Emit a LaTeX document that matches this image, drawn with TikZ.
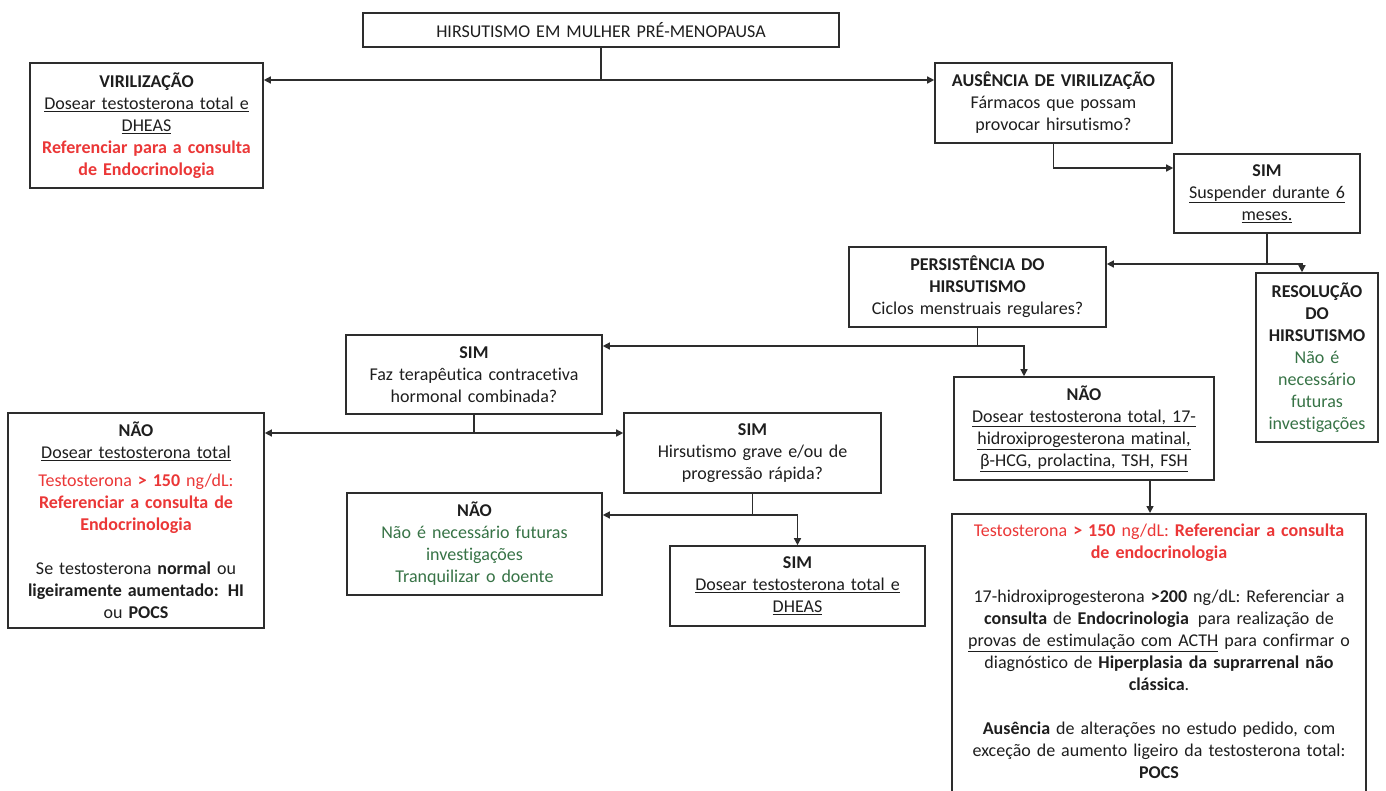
\documentclass[tikz,border=0pt]{standalone}
\usepackage{fontspec}
\setmainfont{Carlito}[Ligatures=NoCommon]
\usetikzlibrary{arrows.meta,calc}
\definecolor{txt}{RGB}{30,30,30}
\definecolor{lin}{RGB}{45,45,45}
\definecolor{rd}{RGB}{235,55,55}
\definecolor{gr}{RGB}{55,115,70}
\begin{document}
\begin{tikzpicture}[x=1pt,y=-1pt,
  box/.style={draw=lin, line width=1.6pt, fill=white, align=center, inner sep=3pt,
    font=\fontsize{18}{22}\selectfont, text=txt},
  conn/.style={draw=lin, line width=1.4pt},
  arr/.style={conn, -{Triangle[length=7pt,width=7pt]}}]
\useasboundingbox (0,0) rectangle (1386,790);
\fill[white] (0,0) rectangle (1386,790);

\node[box, minimum width=476pt, minimum height=34pt, text width=466pt] (top) at (601,30)
  {HIRSUTISMO EM MULHER PRÉ-MENOPAUSA};

\node[box, minimum width=233pt, minimum height=125pt, text width=225pt] (viril) at (146.5,125.5)
  {\textbf{VIRILIZAÇÃO}\\ \underline{Dosear testosterona total e}\\ \underline{DHEAS}\\
   \textcolor{rd}{\textbf{Referenciar para a consulta}}\\ \textcolor{rd}{\textbf{de Endocrinologia}}};

\node[box, minimum width=237pt, minimum height=80pt, text width=229pt] (aus) at (1053.5,103)
  {\textbf{AUSÊNCIA DE VIRILIZAÇÃO}\\ Fármacos que possam\\ provocar hirsutismo?};

\node[box, minimum width=186pt, minimum height=79pt, text width=178pt] (sim1) at (1267,193.5)
  {\textbf{SIM}\\ \underline{Suspender durante 6}\\ \underline{meses.}};

\node[box, minimum width=257pt, minimum height=80pt, text width=249pt] (pers) at (977.5,287)
  {\textbf{PERSISTÊNCIA DO}\\ \textbf{HIRSUTISMO}\\ Ciclos menstruais regulares?};

\node[box, minimum width=122pt, minimum height=169pt, text width=114pt] (resol) at (1317,357.5)
  {\textbf{RESOLUÇÃO}\\ \textbf{DO}\\ \textbf{HIRSUTISMO}\\ \textcolor{gr}{Não é}\\ \textcolor{gr}{necessário}\\ \textcolor{gr}{futuras}\\ \textcolor{gr}{investigações}};

\node[box, minimum width=256pt, minimum height=79pt, text width=248pt] (simfaz) at (474,374.5)
  {\textbf{SIM}\\ Faz terapêutica contracetiva\\ hormonal combinada?};

\node[box, minimum width=260pt, minimum height=103pt, text width=252pt] (naoR) at (1084,428.5)
  {\textbf{NÃO}\\ \underline{Dosear testosterona total, 17-}\\ \underline{hidroxiprogesterona matinal,}\\ \underline{β-HCG, prolactina, TSH, FSH}};

\node[box, minimum width=256pt, minimum height=215pt, text width=248pt] (naoL) at (136,520.5)
  {\textbf{NÃO}\\ \underline{Dosear testosterona total}\\[6pt]
   \textcolor{rd}{Testosterona \textbf{> 150} ng/dL:}\\ \textcolor{rd}{\textbf{Referenciar a consulta de}}\\ \textcolor{rd}{\textbf{Endocrinologia}}\\[22pt]
   Se testosterona \textbf{normal} ou\\ \textbf{ligeiramente aumentado: HI}\\ ou \textbf{POCS}};

\node[box, minimum width=257pt, minimum height=80pt, text width=249pt] (simhir) at (752.5,453)
  {\textbf{SIM}\\ Hirsutismo grave e/ou de\\ progressão rápida?};

\node[box, minimum width=255pt, minimum height=102pt, text width=247pt] (naoNe) at (474.5,544)
  {\textbf{NÃO}\\ \textcolor{gr}{Não é necessário futuras}\\ \textcolor{gr}{investigações}\\ \textcolor{gr}{Tranquilizar o doente}};

\node[box, minimum width=255pt, minimum height=80pt, text width=247pt] (simdh) at (797.5,586)
  {\textbf{SIM}\\ \underline{Dosear testosterona total e}\\ \underline{DHEAS}};

\node[box, anchor=north, minimum width=414pt, text width=404pt, inner ysep=10pt] (bot) at (1159,513)
  {\textcolor{rd}{Testosterona \textbf{> 150} ng/dL: \textbf{Referenciar a consulta}}\\ \textcolor{rd}{\textbf{de endocrinologia}}\\[22pt]
   17-hidroxiprogesterona \textbf{>200} ng/dL: Referenciar a\\
   \textbf{consulta} de \textbf{Endocrinologia}\, para realização de\\
   \underline{provas de estimulação com ACTH} para confirmar o\\
   diagnóstico de \textbf{Hiperplasia da suprarrenal não}\\
   \textbf{clássica}.\\[22pt]
   \textbf{Ausência} de alterações no estudo pedido, com\\
   exceção de aumento ligeiro da testosterona total:\\
   \textbf{POCS}\rule[-20pt]{0pt}{20pt}};

% connectors
\coordinate (j1) at (601,80);
\draw[conn] (top.south) -- (j1);
\draw[arr] (j1) -- (viril.east |- j1);
\draw[arr] (j1) -- (aus.west |- j1);

\coordinate (j2) at (1053.5,168);
\draw[arr] (aus.south) -- (j2) -- (sim1.west |- j2);

\coordinate (j3) at (1267,264);
\coordinate (k3) at (1302,264);
\draw[conn] (sim1.south) -- (j3);
\draw[arr] (j3) -- (pers.east |- j3);
\draw[arr] (j3) -- (k3) -- (k3 |- resol.north);

\coordinate (j4) at (977.5,346);
\coordinate (k4) at (1024,346);
\draw[conn] (pers.south) -- (j4);
\draw[arr] (j4) -- (simfaz.east |- j4);
\draw[arr] (j4) -- (k4) -- (k4 |- naoR.north);

\coordinate (j5) at (474,433);
\draw[conn] (simfaz.south) -- (j5);
\draw[arr] (j5) -- (naoL.east |- j5);
\draw[arr] (j5) -- (simhir.west |- j5);

\coordinate (j6) at (752.5,515);
\draw[conn] (simhir.south) -- (j6);
\draw[arr] (j6) -- (naoNe.east |- j6);
\draw[arr] (j6) -| (simdh.north);

\coordinate (k5) at (1150,480);
\draw[arr] (naoR.south -| k5) -- (bot.north -| k5);
\end{tikzpicture}
\end{document}
